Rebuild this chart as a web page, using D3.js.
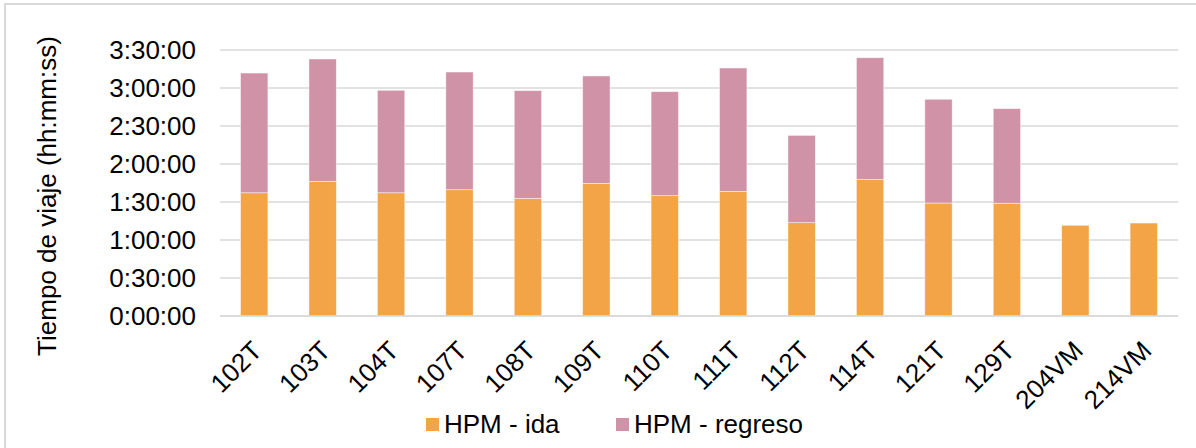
<!DOCTYPE html>
<html><head><meta charset="utf-8">
<script src="https://cdn.jsdelivr.net/npm/d3@7"></script>
<style>
html,body{margin:0;padding:0;background:#fff;}
svg text{font-family:"Liberation Sans",Arial,sans-serif;fill:#000;}
</style></head>
<body><svg id="c" width="1196" height="448"></svg>
<script>
const categories = ["102T","103T","104T","107T","108T","109T","110T","111T","112T","114T","121T","129T","204VM","214VM"];
// minutes
const idaValues     = [97.3,106.3,97.3,99.7,92.9,104.7,95.0,98.4,73.7,107.9,89.2,89.0,71.6,73.4];
const regresoValues = [94.5,96.6,80.9,92.9,85.0,84.8,82.1,97.4,68.9,96.0,81.9,74.7,0,0];
const seriesNames = ["HPM - ida","HPM - regreso"];
const seriesColors = ["#F2A447","#D092A7"];
const yTicks = [0,30,60,90,120,150,180,210];
const yTitle = "Tiempo de viaje (hh:mm:ss)";

const FS = 26;
const svg = d3.select("#c");
// outer chart border
svg.append("rect").attr("x",5).attr("y",4).attr("width",1300).attr("height",600)
  .attr("fill","none").attr("stroke","#d9d9d9").attr("stroke-width",2);

const x = d3.scaleBand().domain(categories).range([220,1178]).paddingInner(0.6).paddingOuter(0.3);
const y = d3.scaleLinear().domain([0,210]).range([316,50]);

const fmt = m => { const h=Math.floor(m/60), mm=m%60; return h+":"+String(mm).padStart(2,"0")+":00"; };

// gridlines
svg.append("g").selectAll("line").data(yTicks).join("line")
  .attr("x1",220).attr("x2",1178).attr("y1",d=>y(d)).attr("y2",d=>y(d))
  .attr("stroke","#d9d9d9").attr("stroke-width",1.5);

// y axis labels
const yAxis = svg.append("g").attr("transform","translate(196,0)")
  .call(d3.axisLeft(y).tickValues(yTicks).tickFormat(fmt).tickSize(0).tickPadding(0));
yAxis.select(".domain").remove();
yAxis.selectAll("text").attr("font-size",FS).attr("font-family","Liberation Sans, Arial, sans-serif").attr("fill","#000");

// stacked data
const rows = categories.map((c,i)=>({cat:c, ida:idaValues[i], regreso:regresoValues[i]}));
const stack = d3.stack().keys(["ida","regreso"])(rows);
svg.append("g").selectAll("g").data(stack).join("g")
  .attr("fill",(d,i)=>seriesColors[i])
  .selectAll("rect").data(d=>d.filter(p=>p[1]-p[0]>0)).join("rect")
  .attr("x",d=>x(d.data.cat)).attr("width",x.bandwidth())
  .attr("y",d=>y(d[1])).attr("height",d=>y(d[0])-y(d[1]))
  .attr("stroke","#fff").attr("stroke-opacity",0.6).attr("stroke-width",0.75);

// baseline
svg.append("line").attr("x1",220).attr("x2",1178).attr("y1",y(0)).attr("y2",y(0))
  .attr("stroke","#d9d9d9").attr("stroke-width",1.5);

// x labels
const xAxis = svg.append("g").attr("transform",`translate(0,${y(0)})`)
  .call(d3.axisBottom(x).tickSize(0).tickPadding(0));
xAxis.select(".domain").remove();
xAxis.selectAll("text").attr("font-size",FS).attr("font-family","Liberation Sans, Arial, sans-serif").attr("fill","#000")
  .attr("text-anchor","end").attr("dy","0.72em")
  .attr("transform","translate(-4,23) rotate(-45)");

// y title
svg.append("text").attr("transform","translate(56,196) rotate(-90)")
  .attr("text-anchor","middle").attr("font-size",FS).text(yTitle);

// legend
const lg = svg.append("g").selectAll("g").data(seriesNames).join("g")
  .attr("transform",(d,i)=>`translate(${[426,616][i]},418)`);
lg.append("rect").attr("width",13).attr("height",13).attr("fill",(d,i)=>seriesColors[i]);
lg.append("text").attr("x",18).attr("y",15).attr("font-size",FS).text(d=>d);
</script></body></html>
